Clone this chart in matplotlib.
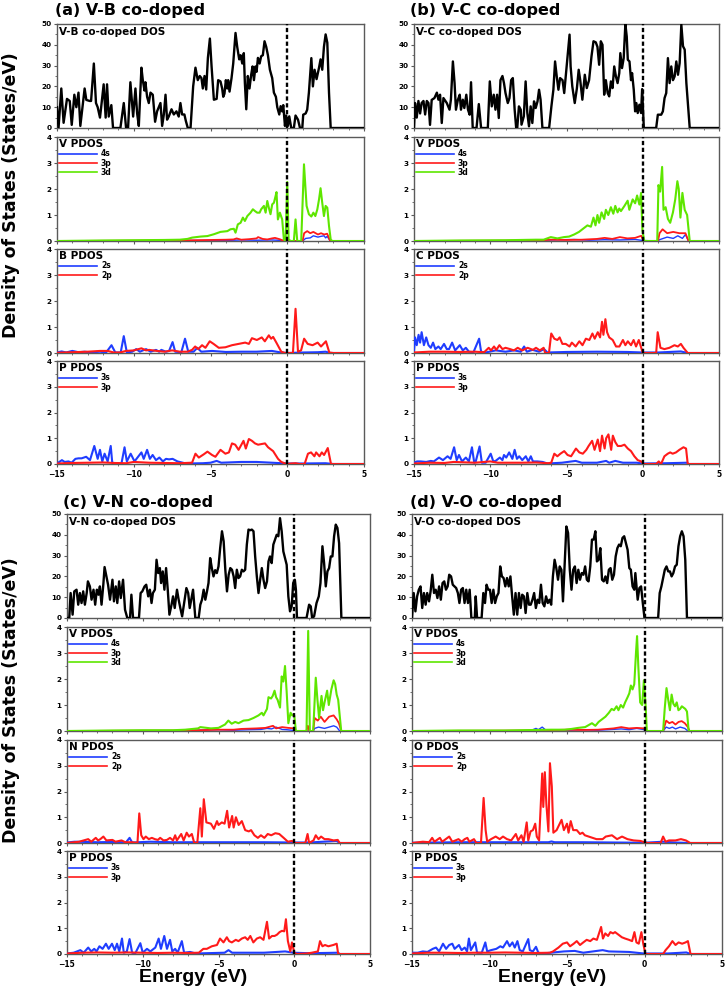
"""Total DOS and projected DOS of the four V-X co-doped systems (X = B, C, N, O)."""
import matplotlib
matplotlib.use("Agg")
import matplotlib.pyplot as plt
from matplotlib.lines import Line2D
from matplotlib.ticker import MultipleLocator

# ---------------------------------------------------------------- data
# every curve is a list of (energy in eV, states/eV)

VB_DOS = [(-15.0, 10), (-14.9, 0), (-14.72, 19), (-14.57, 2.5), (-14.35, 14), (-14.17, 13), (-14.04, 1.5),
          (-13.87, 16), (-13.74, 10), (-13.6, 17), (-13.48, 1), (-13.2, 19), (-13.09, 13.5), (-12.87, 13),
          (-12.78, 13), (-12.6, 31), (-12.46, 12), (-12.35, 10), (-12.2, 5), (-12.13, 9.5), (-11.96, 21),
          (-11.83, 5), (-11.74, 21), (-11.63, 5.5), (-11.46, 11), (-11.35, 0), (-10.87, 0), (-10.65, 12),
          (-10.5, 0), (-10.37, 0), (-10.22, 22), (-10.04, 5.5), (-9.89, 19), (-9.78, 7), (-9.67, 1), (-9.5, 29),
          (-9.41, 23), (-9.3, 18), (-9.24, 22), (-9.13, 15), (-9.02, 12), (-8.91, 17), (-8.76, 16), (-8.61, 3),
          (-8.48, 8), (-8.26, 12), (-8.15, 1), (-8.04, 6.5), (-7.93, 16), (-7.83, 4), (-7.72, 5.5), (-7.54, 9),
          (-7.39, 6.5), (-7.22, 8), (-7.07, 5.5), (-6.96, 12), (-6.85, 6.5), (-6.7, 6.5), (-6.61, 3.5),
          (-6.48, 0), (-6.3, 0), (-6.13, 20), (-5.98, 29), (-5.83, 23), (-5.7, 25), (-5.59, 24), (-5.5, 19),
          (-5.39, 25), (-5.28, 18.5), (-5.17, 33.7), (-5.04, 43), (-4.93, 29.6), (-4.78, 13.6), (-4.6, 14),
          (-4.5, 23), (-4.35, 22.4), (-4.24, 19), (-4.17, 15), (-4.09, 16.5), (-4.0, 23), (-3.91, 19),
          (-3.85, 23), (-3.76, 17.5), (-3.63, 24), (-3.52, 31), (-3.37, 45.7), (-3.26, 39), (-3.13, 33),
          (-3.04, 35), (-2.93, 31), (-2.83, 36), (-2.76, 21.6), (-2.67, 9), (-2.57, 25), (-2.46, 19),
          (-2.35, 25.6), (-2.26, 29.6), (-2.17, 23), (-2.07, 29.6), (-2.0, 27), (-1.91, 33.7), (-1.8, 31),
          (-1.7, 34.5), (-1.59, 35), (-1.48, 41.7), (-1.37, 39), (-1.26, 35), (-1.13, 28), (-0.98, 24),
          (-0.87, 17), (-0.74, 15), (-0.65, 10), (-0.52, 6.5), (-0.43, 10.5), (-0.33, 8), (-0.26, 11),
          (-0.15, 1), (-0.07, 6), (0.04, 1), (0.13, 5.6), (0.26, 0), (0.43, 0), (0.54, 6), (0.7, 4), (0.83, 0),
          (0.98, 0), (1.04, 6.4), (1.2, 7), (1.3, 8.8), (1.41, 17), (1.57, 33.6), (1.67, 20), (1.78, 28),
          (1.91, 23.5), (2.07, 29), (2.17, 33), (2.28, 28), (2.39, 39), (2.5, 45), (2.61, 41), (2.72, 17),
          (2.83, 0), (5.0, 0)]
VB_V4S = [(-15, 0), (-8, 0.01), (-7.2, 0.04), (-6.5, 0.02), (-4, 0.02), (-3, 0.04), (-2, 0.03), (-1, 0.04),
          (-0.3, 0.02), (0, 0), (1.0, 0), (1.2, 0.1), (1.5, 0.12), (1.7, 0.2), (2.0, 0.15), (2.2, 0.18),
          (2.4, 0.2), (2.5, 0.12), (2.6, 0.18), (2.8, 0.0), (5, 0)]
VB_V3P = [(-15, 0), (-10, 0.01), (-7, 0.02), (-6, 0.03), (-5, 0.04), (-4, 0.05), (-3.5, 0.06), (-3.3, 0.1),
          (-3.0, 0.05), (-2.5, 0.07), (-2.0, 0.1), (-1.9, 0.15), (-1.6, 0.08), (-1.3, 0.06), (-1.0, 0.1),
          (-0.8, 0.12), (-0.5, 0.07), (-0.2, 0.0), (1.0, 0.0), (1.1, 0.3), (1.3, 0.38), (1.5, 0.3), (1.7, 0.35),
          (2.0, 0.25), (2.2, 0.3), (2.4, 0.25), (2.6, 0.28), (2.8, 0.0), (5, 0)]
VB_V3D = [(-15, 0), (-12, 0.02), (-10, 0.03), (-8, 0.04), (-7, 0.05), (-6.5, 0.08), (-6.2, 0.13), (-5.65, 0.17),
          (-5.2, 0.19), (-4.78, 0.26), (-4.35, 0.35), (-3.9, 0.38), (-3.7, 0.45), (-3.48, 0.47), (-3.37, 0.32),
          (-3.22, 0.64), (-3.04, 0.7), (-2.89, 0.9), (-2.76, 0.77), (-2.6, 0.96), (-2.39, 1.09), (-2.24, 1.22),
          (-2.1, 1.15), (-1.96, 1.09), (-1.8, 1.09), (-1.7, 1.22), (-1.52, 1.35), (-1.41, 1.09), (-1.3, 1.54),
          (-1.2, 1.28), (-1.09, 1.03), (-0.98, 1.41), (-0.87, 1.47), (-0.76, 1.73), (-0.7, 1.88), (-0.61, 0.83),
          (-0.48, 1.09), (-0.33, 0.83), (-0.22, 0.06), (-0.11, 0), (0.0, 2.27), (0.09, 0.06), (0.22, 0),
          (0.43, 0), (0.54, 0.83), (0.65, 0), (0.91, 0), (1.09, 2.95), (1.26, 1.35), (1.41, 1.03), (1.57, 0.94),
          (1.7, 1.09), (1.83, 0.96), (1.96, 1.22), (2.07, 1.6), (2.17, 2.03), (2.28, 1.47), (2.39, 0.96),
          (2.5, 1.35), (2.61, 1.28), (2.72, 0.58), (2.83, 0.06), (2.93, 0), (5, 0)]
VB_B2S = [(-15, 0.02), (-14.7, 0.06), (-14.4, 0.02), (-14.0, 0.08), (-13.6, 0.03), (-13.2, 0.05), (-12.8, 0.02),
          (-12.2, 0.05), (-11.8, 0.02), (-11.45, 0.3), (-11.2, 0.02), (-10.85, 0.02), (-10.65, 0.65),
          (-10.45, 0.02), (-10.1, 0.05), (-9.84, 0.15), (-9.6, 0.05), (-9.2, 0.15), (-8.9, 0.05), (-8.55, 0.12),
          (-8.35, 0.05), (-8.2, 0.12), (-7.9, 0.05), (-7.7, 0.08), (-7.47, 0.42), (-7.3, 0.05), (-6.9, 0.03),
          (-6.66, 0.55), (-6.45, 0.05), (-6.1, 0.05), (-5.86, 0.2), (-5.6, 0.05), (-4.9, 0.08), (-4.0, 0.04),
          (-3.0, 0.05), (-2.0, 0.05), (-1.0, 0.08), (-0.5, 0.03), (0, 0.0), (1.0, 0.02), (2.0, 0.03),
          (2.5, 0.05), (2.8, 0.0), (5, 0)]
VB_B2P = [(-15, 0.01), (-14, 0.03), (-13, 0.05), (-12.2, 0.08), (-11.7, 0.08), (-11.3, 0.02), (-10.9, 0.02),
          (-10.5, 0.08), (-10.0, 0.1), (-9.5, 0.18), (-9.2, 0.1), (-9.0, 0.12), (-8.5, 0.08), (-8.0, 0.05),
          (-7.5, 0.1), (-7.0, 0.05), (-6.5, 0.05), (-6.2, 0.12), (-6.0, 0.25), (-5.8, 0.15), (-5.55, 0.3),
          (-5.33, 0.2), (-5.05, 0.45), (-4.8, 0.35), (-4.46, 0.2), (-4.03, 0.22), (-3.6, 0.3), (-3.17, 0.35),
          (-2.74, 0.4), (-2.5, 0.35), (-2.3, 0.57), (-1.98, 0.5), (-1.66, 0.6), (-1.46, 0.45), (-1.2, 0.68),
          (-1.05, 0.55), (-0.92, 0.62), (-0.71, 0.4), (-0.39, 0.05), (-0.15, 0.0), (0.37, 0.0), (0.54, 1.7),
          (0.7, 0.05), (0.9, 0.1), (1.1, 0.55), (1.33, 0.35), (1.65, 0.3), (1.98, 0.4), (2.2, 0.25),
          (2.52, 0.45), (2.74, 0.02), (3.0, 0), (5, 0)]
VB_P3S = [(-15, 0.02), (-14.68, 0.15), (-14.5, 0.08), (-14.25, 0.1), (-14.05, 0.05), (-13.8, 0.2), (-13.6, 0.22),
          (-13.4, 0.22), (-13.1, 0.28), (-12.85, 0.15), (-12.57, 0.7), (-12.35, 0.2), (-12.2, 0.55),
          (-12.05, 0.1), (-11.9, 0.4), (-11.7, 0.1), (-11.5, 0.7), (-11.4, 0.05), (-11.1, 0.02), (-10.8, 0.02),
          (-10.6, 0.65), (-10.45, 0.1), (-10.2, 0.4), (-9.95, 0.1), (-9.5, 0.45), (-9.35, 0.2), (-9.13, 0.55),
          (-8.95, 0.2), (-8.77, 0.35), (-8.55, 0.15), (-8.33, 0.25), (-8.1, 0.1), (-7.9, 0.2), (-7.7, 0.18),
          (-7.47, 0.2), (-7.15, 0.1), (-6.6, 0.02), (-5.5, 0.03), (-5.0, 0.05), (-4.6, 0.12), (-4.3, 0.05),
          (-3.0, 0.08), (-2.0, 0.08), (-1.0, 0.05), (0, 0.02), (1, 0.02), (2.5, 0.03), (3, 0), (5, 0)]
VB_P3P = [(-15, 0.02), (-14, 0.04), (-13, 0.05), (-12, 0.06), (-11.3, 0.04), (-10.5, 0.03), (-10, 0.08),
          (-9, 0.05), (-8, 0.04), (-7, 0.03), (-6.2, 0.05), (-5.98, 0.4), (-5.76, 0.25), (-5.43, 0.38),
          (-5.2, 0.48), (-4.9, 0.35), (-4.68, 0.28), (-4.35, 0.55), (-4.03, 0.4), (-3.8, 0.45), (-3.6, 0.8),
          (-3.39, 0.75), (-3.17, 0.55), (-2.85, 0.9), (-2.7, 0.6), (-2.5, 0.97), (-2.3, 0.9), (-2.1, 0.8),
          (-1.9, 0.75), (-1.45, 0.8), (-1.25, 0.65), (-0.92, 0.5), (-0.6, 0.2), (-0.39, 0.08), (-0.05, 0.0),
          (0.26, 0.02), (0.55, 0.03), (0.8, 0.0), (1.13, 0.0), (1.35, 0.4), (1.55, 0.45), (1.77, 0.3),
          (1.88, 0.45), (2.1, 0.3), (2.25, 0.45), (2.4, 0.35), (2.64, 0.62), (2.85, 0.0), (5, 0)]

VC_DOS = [(-15.0, 0), (-14.93, 12), (-14.82, 5), (-14.71, 13), (-14.6, 7), (-14.5, 12), (-14.38, 13),
          (-14.27, 6.5), (-14.16, 13), (-14.05, 12), (-13.95, 1.5), (-13.84, 13.5), (-13.66, 14.4), (-13.5, 17),
          (-13.4, 13.6), (-13.29, 16), (-13.18, 2.4), (-13.07, 14.4), (-12.85, 12), (-12.67, 8.8),
          (-12.58, 13.6), (-12.45, 32), (-12.34, 21.6), (-12.25, 8.8), (-12.12, 13.6), (-12.0, 16),
          (-11.92, 8.8), (-11.8, 13.6), (-11.7, 9.6), (-11.57, 16), (-11.46, 8.8), (-11.35, 6.4), (-11.26, 22),
          (-11.15, 0), (-10.9, 0), (-10.75, 11.5), (-10.6, 0), (-10.16, 0), (-10.03, 22.4), (-9.9, 10.4),
          (-9.77, 16), (-9.66, 8.8), (-9.55, 16), (-9.44, 4.8), (-9.33, 23), (-9.2, 25), (-9.1, 21.6),
          (-9.0, 16.8), (-8.85, 12), (-8.74, 14.4), (-8.63, 23), (-8.52, 24), (-8.4, 8.8), (-8.3, 0),
          (-8.23, 0), (-8.12, 10.4), (-8.0, 8.8), (-7.95, 1.6), (-7.8, 5.6), (-7.68, 22.4), (-7.57, 7.2),
          (-7.46, 0.8), (-7.35, 10.4), (-7.24, 2.4), (-7.13, 12.8), (-7.02, 9.6), (-6.9, 12.8), (-6.8, 18.4),
          (-6.7, 13.6), (-6.58, 0), (-6.14, 0), (-5.99, 10.4), (-5.86, 18.4), (-5.75, 32), (-5.64, 24.8),
          (-5.53, 18.4), (-5.42, 24), (-5.26, 23), (-5.15, 16.8), (-5.04, 25.6), (-4.9, 36.9), (-4.8, 44.9),
          (-4.73, 29.6), (-4.62, 20), (-4.46, 12), (-4.32, 19), (-4.2, 28), (-4.1, 23), (-3.96, 13.6),
          (-3.8, 25.6), (-3.67, 19.2), (-3.52, 23), (-3.36, 34.5), (-3.23, 41.7), (-3.08, 41.2), (-2.97, 39),
          (-2.86, 30.4), (-2.75, 41.7), (-2.64, 40), (-2.53, 16), (-2.42, 23), (-2.3, 16.8), (-2.2, 15.2),
          (-2.09, 22.4), (-1.98, 19.2), (-1.87, 29.6), (-1.76, 24.8), (-1.65, 21.6), (-1.54, 26.4), (-1.47, 36),
          (-1.36, 28.8), (-1.25, 33.6), (-1.14, 50), (-1.05, 44), (-0.98, 32.8), (-0.87, 32), (-0.77, 23),
          (-0.7, 26.4), (-0.59, 18.4), (-0.5, 8), (-0.42, 12), (-0.33, 7.2), (-0.22, 11.2), (-0.11, 7.2),
          (-0.04, 18.7), (0.07, 0), (0.88, 0), (0.99, 6.4), (1.21, 6.4), (1.32, 8), (1.43, 14.4), (1.54, 16.8),
          (1.65, 33.6), (1.76, 21.6), (1.87, 29.6), (1.98, 23), (2.09, 24.8), (2.2, 32), (2.31, 25.6),
          (2.42, 31.2), (2.53, 49.7), (2.64, 39.3), (2.75, 37.7), (2.86, 21.6), (3.08, 0), (5.0, 0)]
VC_V4S = [(-15, 0), (-8, 0.01), (-6, 0.04), (-4.5, 0.06), (-3.5, 0.03), (-2.5, 0.05), (-1.5, 0.04), (-0.5, 0.06),
          (0, 0.02), (1.0, 0), (1.1, 0.05), (1.6, 0.15), (2.0, 0.1), (2.3, 0.2), (2.6, 0.1), (2.8, 0.25),
          (3.0, 0), (5, 0)]
VC_V3P = [(-15, 0), (-10, 0.01), (-7, 0.02), (-6, 0.05), (-5, 0.04), (-4, 0.05), (-3, 0.08), (-2.5, 0.12),
          (-2.0, 0.08), (-1.5, 0.15), (-1.0, 0.1), (-0.5, 0.12), (-0.1, 0.2), (0.05, 0.0), (1.0, 0.0),
          (1.1, 0.3), (1.3, 0.45), (1.6, 0.3), (2.0, 0.35), (2.4, 0.3), (2.8, 0.3), (3.0, 0.0), (5, 0)]
VC_V3D = [(-15, 0), (-12, 0.02), (-9, 0.03), (-7, 0.05), (-6.5, 0.05), (-6.03, 0.15), (-5.6, 0.1), (-5.16, 0.15),
          (-4.83, 0.17), (-4.5, 0.25), (-4.18, 0.35), (-3.85, 0.5), (-3.63, 0.6), (-3.4, 0.55), (-3.23, 0.9),
          (-3.1, 0.6), (-2.97, 1.0), (-2.86, 0.7), (-2.7, 1.1), (-2.53, 0.85), (-2.42, 1.2), (-2.26, 1.0),
          (-2.09, 1.3), (-1.93, 1.05), (-1.8, 1.35), (-1.65, 1.1), (-1.54, 1.25), (-1.43, 1.15), (-1.2, 1.35),
          (-0.99, 1.55), (-0.88, 1.2), (-0.66, 1.6), (-0.5, 1.45), (-0.37, 1.75), (-0.22, 1.4), (-0.11, 1.85),
          (-0.02, 0.4), (0.1, 0.0), (0.95, 0.0), (1.03, 2.15), (1.14, 1.9), (1.27, 2.85), (1.36, 1.2),
          (1.5, 1.3), (1.65, 0.85), (1.8, 0.7), (1.98, 1.1), (2.13, 1.6), (2.27, 2.3), (2.36, 2.0), (2.47, 0.9),
          (2.6, 1.85), (2.75, 1.2), (2.91, 1.0), (3.08, 0.0), (5, 0)]
VC_C2S = [(-15, 0.1), (-14.93, 0.6), (-14.82, 0.3), (-14.7, 0.7), (-14.6, 0.4), (-14.5, 0.8), (-14.35, 0.3),
          (-14.2, 0.6), (-14.05, 0.3), (-13.9, 0.2), (-13.75, 0.4), (-13.6, 0.15), (-13.4, 0.25),
          (-13.25, 0.15), (-13.03, 0.35), (-12.85, 0.15), (-12.7, 0.15), (-12.5, 0.4), (-12.3, 0.1),
          (-12.0, 0.3), (-11.8, 0.1), (-11.6, 0.2), (-11.4, 0.05), (-11.1, 0.03), (-10.73, 0.55), (-10.6, 0.05),
          (-10.3, 0.02), (-9.64, 0.1), (-9.0, 0.05), (-8.43, 0.1), (-8.0, 0.05), (-7.78, 0.25), (-7.6, 0.05),
          (-7.23, 0.12), (-6.8, 0.05), (-6.47, 0.15), (-6.25, 0.02), (-5.0, 0.04), (-3.0, 0.05), (-1.0, 0.04),
          (0, 0.02), (1, 0.02), (2.5, 0.06), (2.95, 0), (5, 0)]
VC_C2P = [(-15, 0.02), (-14, 0.05), (-13, 0.05), (-12, 0.04), (-11, 0.05), (-10.4, 0.03), (-10.1, 0.2),
          (-9.95, 0.1), (-9.75, 0.25), (-9.6, 0.12), (-9.4, 0.3), (-9.2, 0.15), (-9.0, 0.2), (-8.7, 0.15),
          (-8.45, 0.1), (-8.2, 0.2), (-7.9, 0.1), (-7.55, 0.2), (-7.2, 0.12), (-7.0, 0.2), (-6.75, 0.1),
          (-6.5, 0.2), (-6.4, 0.0), (-6.15, 0.0), (-6.0, 0.75), (-5.8, 0.55), (-5.6, 0.5), (-5.45, 0.6),
          (-5.27, 0.35), (-5.05, 0.35), (-4.8, 0.25), (-4.65, 0.4), (-4.4, 0.25), (-4.16, 0.45), (-3.95, 0.3),
          (-3.73, 0.55), (-3.5, 0.5), (-3.3, 0.75), (-3.15, 0.55), (-2.95, 0.8), (-2.8, 0.6), (-2.67, 1.2),
          (-2.58, 0.7), (-2.45, 1.3), (-2.34, 0.8), (-2.2, 0.6), (-1.97, 0.5), (-1.75, 0.25), (-1.53, 0.25),
          (-1.3, 0.5), (-1.14, 0.3), (-0.98, 0.45), (-0.77, 0.3), (-0.6, 0.5), (-0.44, 0.25), (-0.26, 0.5),
          (-0.1, 0.2), (0.0, 0.0), (0.88, 0.0), (0.98, 0.8), (1.16, 0.2), (1.42, 0.15), (1.75, 0.2),
          (2.08, 0.3), (2.3, 0.25), (2.5, 0.35), (2.67, 0.2), (2.95, 0.0), (5, 0)]
VC_P3S = [(-15, 0.05), (-14.8, 0.1), (-14.56, 0.1), (-14.2, 0.08), (-13.9, 0.12), (-13.7, 0.1), (-13.36, 0.25),
          (-13.1, 0.15), (-12.8, 0.3), (-12.6, 0.2), (-12.37, 0.65), (-12.2, 0.15), (-12.05, 0.35),
          (-11.85, 0.1), (-11.6, 0.25), (-11.4, 0.1), (-11.2, 0.65), (-11.05, 0.05), (-10.95, 0.1),
          (-10.7, 0.68), (-10.55, 0.05), (-10.3, 0.05), (-9.97, 0.4), (-9.8, 0.1), (-9.65, 0.12), (-9.37, 0.25),
          (-9.2, 0.15), (-9.1, 0.35), (-8.95, 0.25), (-8.76, 0.45), (-8.55, 0.2), (-8.4, 0.55), (-8.25, 0.2),
          (-8.1, 0.3), (-7.9, 0.15), (-7.67, 0.3), (-7.5, 0.1), (-7.34, 0.3), (-7.2, 0.1), (-6.9, 0.1),
          (-6.57, 0.08), (-6.25, 0.02), (-5.3, 0.05), (-4.4, 0.12), (-4.0, 0.05), (-3.0, 0.05), (-2.4, 0.12),
          (-2.2, 0.05), (-1.8, 0.12), (-1.3, 0.05), (-0.4, 0.05), (0, 0.02), (1.5, 0.03), (2.9, 0.05),
          (3.0, 0), (5, 0)]
VC_P3P = [(-15, 0.02), (-14, 0.05), (-13, 0.04), (-12.4, 0.08), (-11, 0.05), (-10, 0.1), (-9.5, 0.05),
          (-8, 0.05), (-7, 0.06), (-6.2, 0.03), (-6.0, 0.05), (-5.8, 0.4), (-5.6, 0.3), (-5.4, 0.4),
          (-5.15, 0.5), (-4.93, 0.35), (-4.7, 0.3), (-4.38, 0.6), (-4.16, 0.45), (-3.93, 0.4), (-3.7, 0.55),
          (-3.55, 0.7), (-3.32, 0.9), (-3.16, 0.55), (-2.95, 0.95), (-2.8, 0.5), (-2.67, 1.1), (-2.5, 0.6),
          (-2.4, 1.0), (-2.25, 1.15), (-2.07, 0.55), (-1.96, 1.1), (-1.8, 0.85), (-1.64, 0.7), (-1.42, 0.7),
          (-1.2, 0.75), (-0.98, 0.6), (-0.77, 0.5), (-0.55, 0.3), (-0.33, 0.15), (-0.11, 0.1), (0.05, 0.0),
          (0.88, 0.0), (1.05, 0.1), (1.2, 0.0), (1.42, 0.3), (1.64, 0.4), (1.8, 0.45), (1.96, 0.4),
          (2.18, 0.45), (2.4, 0.55), (2.67, 0.65), (2.84, 0.6), (2.95, 0.0), (5, 0)]

VN_DOS = [(-15.0, 0), (-14.85, 0), (-14.76, 12), (-14.63, 1.6), (-14.52, 12.8), (-14.37, 13.6), (-14.26, 6.4),
          (-14.15, 12), (-14.04, 7.2), (-13.93, 12.8), (-13.82, 6.4), (-13.7, 12), (-13.62, 17.6),
          (-13.49, 15.2), (-13.38, 8.8), (-13.25, 13.6), (-13.14, 6.4), (-13.03, 13.6), (-12.92, 11.2),
          (-12.83, 15.2), (-12.72, 6.4), (-12.6, 16.3), (-12.52, 24.5), (-12.4, 20), (-12.29, 16),
          (-12.16, 8.8), (-12.0, 18.4), (-11.9, 8), (-11.78, 15.2), (-11.68, 7.2), (-11.56, 17.6),
          (-11.45, 9.6), (-11.3, 18.4), (-11.17, 4), (-11.02, 0), (-10.84, 0), (-10.75, 11.2), (-10.64, 0),
          (-10.25, 0), (-10.14, 12), (-10.03, 12.8), (-9.88, 15.2), (-9.77, 16), (-9.64, 10.4), (-9.53, 13.6),
          (-9.42, 7.2), (-9.33, 12), (-9.2, 13.6), (-9.09, 28), (-8.98, 21.6), (-8.87, 24), (-8.79, 16.8),
          (-8.68, 22.4), (-8.57, 13.6), (-8.46, 24), (-8.35, 13.6), (-8.24, 1.6), (-8.1, 6.4), (-8.0, 10.4),
          (-7.89, 4.8), (-7.74, 13.6), (-7.63, 8.8), (-7.52, 4.8), (-7.4, 0.8), (-7.25, 8), (-7.12, 14.4),
          (-7.0, 12), (-6.9, 4.8), (-6.8, 8.8), (-6.68, 13.6), (-6.53, 0), (-6.31, 0), (-6.2, 6.4),
          (-6.09, 8.8), (-5.98, 13.6), (-5.87, 8.8), (-5.76, 12.8), (-5.66, 16.8), (-5.55, 28.8), (-5.44, 24),
          (-5.33, 20), (-5.22, 23), (-5.11, 21.6), (-5.0, 24.8), (-4.89, 33.6), (-4.77, 41.7), (-4.66, 36.9),
          (-4.55, 23.2), (-4.44, 12.8), (-4.33, 20.8), (-4.22, 24), (-4.11, 23.2), (-4.0, 20), (-3.9, 14.4),
          (-3.79, 23.2), (-3.68, 19.2), (-3.57, 20), (-3.46, 23.2), (-3.35, 22.4), (-3.24, 23.2),
          (-3.13, 35.3), (-3.02, 42.5), (-2.9, 42.2), (-2.8, 42.5), (-2.69, 41.7), (-2.58, 29.6), (-2.47, 20),
          (-2.36, 12), (-2.25, 18.4), (-2.14, 24), (-2.03, 18.4), (-1.92, 14.4), (-1.8, 17.6), (-1.7, 27.2),
          (-1.6, 29.6), (-1.49, 26.4), (-1.38, 35.3), (-1.27, 37.7), (-1.16, 40), (-1.05, 39.3), (-0.94, 48),
          (-0.83, 41.7), (-0.72, 32), (-0.61, 28.8), (-0.5, 25.6), (-0.39, 10.4), (-0.28, 3.2), (-0.17, 5.6),
          (-0.07, 16.8), (0.04, 18.4), (0.11, 13.6), (0.18, 0), (0.81, 0), (0.98, 6.4), (1.09, 5.6),
          (1.18, 0), (1.31, 0.8), (1.47, 7.2), (1.62, 10.4), (1.73, 16.8), (1.86, 34.5), (1.97, 26.4),
          (2.08, 15.2), (2.19, 22.4), (2.3, 24), (2.41, 29.6), (2.52, 29.6), (2.63, 39.3), (2.74, 44.9),
          (2.85, 43.3), (2.96, 36), (3.11, 0), (5.0, 0)]
VN_V4S = [(-15, 0), (-8, 0.01), (-5, 0.05), (-4, 0.03), (-3, 0.05), (-2.2, 0.06), (-1.8, 0.1), (-1.5, 0.08),
          (-1.2, 0.15), (-0.8, 0.06), (-0.5, 0.05), (0, 0.02), (0.1, 0), (1.25, 0), (1.35, 0.1), (1.6, 0.15),
          (2.0, 0.1), (2.3, 0.15), (2.6, 0.2), (2.8, 0.15), (3.0, 0), (5, 0)]
VN_V3P = [(-15, 0), (-10, 0.01), (-7, 0.02), (-5, 0.05), (-4, 0.05), (-3.5, 0.08), (-2.5, 0.1), (-1.9, 0.12),
          (-1.4, 0.2), (-1.2, 0.1), (-0.8, 0.15), (-0.4, 0.12), (0, 0.1), (0.1, 0), (0.8, 0), (0.9, 0.2),
          (1.0, 0), (1.25, 0), (1.35, 0.5), (1.55, 0.4), (1.75, 0.55), (2.0, 0.35), (2.3, 0.55), (2.6, 0.6),
          (2.8, 0.45), (2.95, 0.3), (3.1, 0), (5, 0)]
VN_V3D = [(-15, 0), (-12, 0.02), (-10, 0.03), (-8, 0.03), (-7.2, 0.05), (-6.35, 0.1), (-6.2, 0.15), (-5.5, 0.1),
          (-5.0, 0.12), (-4.57, 0.25), (-4.35, 0.4), (-4.13, 0.28), (-3.9, 0.35), (-3.68, 0.3), (-3.35, 0.4),
          (-3.02, 0.42), (-2.69, 0.5), (-2.36, 0.6), (-2.14, 0.7), (-2.03, 0.6), (-1.8, 0.85), (-1.7, 1.3),
          (-1.53, 1.25), (-1.42, 1.35), (-1.3, 1.55), (-1.2, 1.3), (-1.1, 1.2), (-0.94, 0.9), (-0.83, 2.1),
          (-0.72, 1.9), (-0.61, 2.5), (-0.5, 1.5), (-0.39, 0.3), (-0.24, 0.7), (-0.13, 0.6), (0.0, 0.6),
          (0.11, 0.0), (0.81, 0.0), (0.92, 3.85), (1.03, 0.0), (1.25, 0.0), (1.42, 2.05), (1.53, 1.2),
          (1.64, 0.5), (1.8, 1.35), (1.9, 0.8), (2.0, 1.1), (2.17, 1.55), (2.28, 1.0), (2.45, 1.6), (2.6, 1.95),
          (2.7, 1.8), (2.8, 1.4), (2.9, 1.2), (3.1, 0.0), (5, 0)]
VN_N2S = [(-15, 0.02), (-14.5, 0.05), (-13, 0.03), (-12, 0.04), (-11.1, 0.03), (-10.87, 0.2), (-10.7, 0.02),
          (-9.5, 0.05), (-8, 0.03), (-6, 0.03), (-4, 0.03), (-2, 0.03), (0, 0.02), (1, 0.02), (2.8, 0.08),
          (3.0, 0), (5, 0)]
VN_N2P = [(-15, 0.0), (-14.2, 0.05), (-13.6, 0.15), (-13.4, 0.05), (-13.1, 0.2), (-12.95, 0.1), (-12.8, 0.15),
          (-12.6, 0.25), (-12.4, 0.1), (-12.0, 0.12), (-11.8, 0.05), (-11.4, 0.1), (-11.15, 0.03),
          (-10.7, 0.03), (-10.35, 0.0), (-10.23, 1.15), (-10.1, 0.3), (-9.95, 0.15), (-9.8, 0.25), (-9.6, 0.15),
          (-9.4, 0.2), (-9.2, 0.15), (-9.0, 0.12), (-8.85, 0.2), (-8.63, 0.1), (-8.4, 0.12), (-8.2, 0.2),
          (-8.0, 0.1), (-7.86, 0.3), (-7.75, 0.1), (-7.46, 0.35), (-7.3, 0.1), (-7.1, 0.4), (-6.95, 0.25),
          (-6.76, 0.35), (-6.6, 0.0), (-6.4, 0.0), (-6.2, 1.35), (-6.1, 0.25), (-5.97, 1.7), (-5.8, 0.8),
          (-5.5, 0.75), (-5.3, 0.55), (-5.1, 0.85), (-5.0, 0.7), (-4.78, 0.8), (-4.6, 0.75), (-4.43, 1.25),
          (-4.3, 0.6), (-4.1, 1.05), (-4.0, 0.6), (-3.85, 1.0), (-3.67, 0.7), (-3.46, 0.85), (-3.24, 0.5),
          (-3.0, 0.45), (-2.85, 0.5), (-2.63, 0.3), (-2.4, 0.2), (-2.2, 0.3), (-1.97, 0.2), (-1.75, 0.35),
          (-1.52, 0.3), (-1.25, 0.38), (-0.99, 0.35), (-0.7, 0.2), (-0.42, 0.05), (-0.15, 0.08), (0.05, 0.0),
          (0.73, 0.0), (0.88, 0.35), (0.98, 0.0), (1.27, 0.1), (1.42, 0.3), (1.6, 0.15), (1.77, 0.25),
          (2.0, 0.15), (2.25, 0.15), (2.6, 0.1), (2.87, 0.12), (3.0, 0.0), (5, 0)]
VN_P3S = [(-15, 0.02), (-14.56, 0.05), (-14.12, 0.15), (-13.9, 0.05), (-13.6, 0.25), (-13.4, 0.1), (-13.2, 0.2),
          (-13.05, 0.1), (-12.86, 0.3), (-12.65, 0.2), (-12.43, 0.4), (-12.25, 0.2), (-12.03, 0.4),
          (-11.85, 0.15), (-11.7, 0.4), (-11.55, 0.1), (-11.37, 0.6), (-11.25, 0.05), (-11.05, 0.1),
          (-10.87, 0.58), (-10.7, 0.05), (-10.5, 0.02), (-10.16, 0.42), (-10.0, 0.05), (-9.72, 0.2),
          (-9.5, 0.1), (-9.17, 0.25), (-8.95, 0.6), (-8.8, 0.2), (-8.58, 0.7), (-8.4, 0.2), (-8.2, 0.55),
          (-8.05, 0.1), (-7.86, 0.2), (-7.7, 0.05), (-7.42, 0.5), (-7.27, 0.05), (-6.87, 0.08), (-6.5, 0.02),
          (-4.6, 0.05), (-4.34, 0.15), (-4.1, 0.05), (-2.0, 0.05), (-0.6, 0.1), (-0.05, 0.05), (1, 0.03),
          (2.9, 0.05), (3.0, 0), (5, 0)]
VN_P3P = [(-15, 0.02), (-14, 0.05), (-13, 0.06), (-12, 0.05), (-11, 0.06), (-10, 0.05), (-9, 0.04), (-8, 0.05),
          (-7, 0.04), (-6.3, 0.05), (-6.0, 0.2), (-5.77, 0.2), (-5.44, 0.3), (-5.1, 0.35), (-4.9, 0.6),
          (-4.67, 0.45), (-4.45, 0.65), (-4.3, 0.5), (-4.12, 0.45), (-3.86, 0.55), (-3.68, 0.5), (-3.46, 0.6),
          (-3.24, 0.65), (-3.07, 0.55), (-2.9, 0.7), (-2.7, 0.45), (-2.47, 0.6), (-2.25, 0.65), (-2.03, 0.55),
          (-1.8, 1.25), (-1.66, 0.6), (-1.47, 0.7), (-1.3, 0.7), (-1.14, 0.75), (-0.97, 0.85), (-0.81, 0.9),
          (-0.66, 0.88), (-0.55, 1.35), (-0.42, 0.5), (-0.26, 0.1), (-0.15, 0.45), (0.0, 0.05), (0.15, 0.0),
          (0.84, 0.02), (1.16, 0.05), (1.56, 0.1), (1.7, 0.5), (1.86, 0.3), (2.03, 0.35), (2.25, 0.3),
          (2.58, 0.35), (2.8, 0.4), (2.9, 0.0), (5, 0)]

VO_DOS = [(-15.0, 0), (-14.89, 12), (-14.78, 3.2), (-14.67, 10.4), (-14.56, 13.6), (-14.45, 15.2),
          (-14.34, 4.8), (-14.23, 12), (-14.12, 6.4), (-14.02, 12), (-13.9, 8), (-13.8, 12.8), (-13.69, 20.8),
          (-13.58, 12), (-13.47, 13.6), (-13.36, 9.6), (-13.25, 15.2), (-13.14, 8.8), (-13.03, 16.8),
          (-12.92, 17.6), (-12.81, 13.6), (-12.7, 15.2), (-12.6, 20.8), (-12.48, 20), (-12.37, 16),
          (-12.26, 15.2), (-12.15, 14.4), (-12.04, 12), (-11.94, 7.2), (-11.83, 13.6), (-11.72, 14.4),
          (-11.61, 7.2), (-11.5, 13.6), (-11.39, 7.2), (-11.28, 13.6), (-11.17, 0), (-10.95, 0),
          (-10.89, 10.4), (-10.8, 0), (-10.51, 0), (-10.4, 12), (-10.29, 7.2), (-10.19, 16), (-10.08, 13.6),
          (-9.97, 13.6), (-9.86, 7.2), (-9.75, 13.6), (-9.64, 7.2), (-9.53, 10.4), (-9.42, 12), (-9.31, 24.8),
          (-9.2, 20), (-9.09, 19.2), (-8.98, 15.2), (-8.87, 19.2), (-8.76, 15.2), (-8.65, 20), (-8.54, 10.4),
          (-8.43, 1.6), (-8.32, 12), (-8.21, 1.6), (-8.1, 12), (-7.99, 4.8), (-7.89, 11.2), (-7.78, 10.4),
          (-7.67, 2.4), (-7.56, 12), (-7.45, 6.4), (-7.34, 6.4), (-7.23, 8.8), (-7.12, 12), (-7.01, 4.8),
          (-6.9, 8.8), (-6.79, 7.2), (-6.68, 16), (-6.57, 7.2), (-6.46, 5.6), (-6.35, 10.4), (-6.24, 7.2),
          (-6.13, 8.8), (-6.02, 6.4), (-5.91, 20), (-5.8, 28), (-5.69, 24), (-5.58, 18.4), (-5.47, 24.8),
          (-5.36, 23.2), (-5.26, 8), (-5.15, 26.4), (-5.04, 44), (-4.93, 40.9), (-4.82, 23.2), (-4.71, 13.6),
          (-4.6, 23.2), (-4.49, 24.8), (-4.38, 16.8), (-4.27, 23.2), (-4.16, 18.4), (-4.05, 21.6),
          (-3.94, 20.8), (-3.83, 24.8), (-3.72, 18.4), (-3.61, 17.6), (-3.5, 24.8), (-3.39, 37.7),
          (-3.28, 37.7), (-3.17, 41.7), (-3.07, 27.2), (-2.96, 28), (-2.85, 33.6), (-2.74, 18.4),
          (-2.63, 17.6), (-2.52, 20), (-2.41, 16.8), (-2.3, 23.2), (-2.19, 24), (-2.08, 18.4), (-1.97, 20.8),
          (-1.86, 29.6), (-1.75, 33.6), (-1.64, 35.3), (-1.53, 34.5), (-1.42, 38.5), (-1.31, 39.3), (-1.2, 36),
          (-1.09, 32.8), (-0.98, 24), (-0.88, 23.2), (-0.77, 15.2), (-0.66, 13.6), (-0.59, 21.6), (-0.5, 13.6),
          (-0.44, 8.8), (-0.33, 14.4), (-0.22, 15.2), (-0.11, 7.2), (0.0, 0), (0.88, 0), (0.98, 12),
          (1.09, 15.2), (1.2, 19.2), (1.31, 23.2), (1.42, 24.8), (1.53, 22.4), (1.64, 22.4), (1.75, 20),
          (1.86, 21.6), (1.97, 24.8), (2.08, 25.6), (2.19, 34.5), (2.3, 39.3), (2.41, 41.7), (2.52, 39.3),
          (2.63, 28), (2.74, 0), (5.0, 0)]
VO_V4S = [(-15, 0), (-8, 0.01), (-7.4, 0.02), (-7.2, 0.05), (-7.0, 0.1), (-6.85, 0.05), (-6.6, 0.15),
          (-6.4, 0.05), (-5, 0.03), (-4, 0.05), (-3, 0.03), (-1.5, 0.08), (-1.0, 0.05), (-0.5, 0.1), (0, 0.05),
          (0.1, 0), (1.2, 0), (1.4, 0.15), (1.6, 0.1), (1.8, 0.15), (2.0, 0.08), (2.3, 0.15), (2.6, 0.1),
          (2.8, 0), (5, 0)]
VO_V3P = [(-15, 0), (-10, 0.01), (-7, 0.02), (-5, 0.05), (-4, 0.04), (-3, 0.05), (-2, 0.1), (-1.5, 0.15),
          (-1.0, 0.1), (-0.5, 0.12), (0, 0.1), (0.1, 0), (1.2, 0), (1.3, 0.2), (1.4, 0.4), (1.6, 0.3),
          (1.8, 0.35), (2.0, 0.25), (2.2, 0.35), (2.4, 0.38), (2.6, 0.3), (2.8, 0.15), (2.9, 0), (5, 0)]
VO_V3D = [(-15, 0), (-12, 0.02), (-9, 0.02), (-7, 0.04), (-6.0, 0.05), (-5.6, 0.05), (-5.15, 0.05), (-4.7, 0.08),
          (-4.27, 0.12), (-3.83, 0.15), (-3.39, 0.3), (-3.17, 0.2), (-2.96, 0.35), (-2.74, 0.45), (-2.52, 0.55),
          (-2.3, 0.7), (-2.12, 0.85), (-1.97, 0.8), (-1.8, 0.95), (-1.68, 0.8), (-1.53, 1.0), (-1.38, 0.9),
          (-1.25, 1.1), (-1.09, 1.3), (-0.98, 1.45), (-0.88, 1.75), (-0.77, 1.6), (-0.66, 1.8), (-0.55, 3.0),
          (-0.48, 3.65), (-0.4, 2.5), (-0.28, 1.1), (-0.15, 1.0), (-0.04, 1.95), (0.07, 1.0), (0.15, 0.0),
          (1.2, 0.0), (1.31, 0.9), (1.42, 1.65), (1.53, 1.2), (1.64, 0.8), (1.75, 1.4), (1.86, 1.05),
          (1.97, 0.95), (2.08, 1.1), (2.19, 0.8), (2.3, 0.85), (2.41, 0.95), (2.52, 0.9), (2.63, 0.85),
          (2.74, 0.75), (2.85, 0.0), (5, 0)]
VO_O2S = [(-15, 0.01), (-12, 0.03), (-10, 0.03), (-8, 0.03), (-6.2, 0.03), (-6.0, 0.06), (-5.8, 0.03), (-4, 0.03),
          (-2, 0.02), (0, 0.01), (1.2, 0.05), (2, 0.02), (2.9, 0), (5, 0)]
VO_O2P = [(-15, 0.0), (-14.3, 0.05), (-13.9, 0.03), (-13.7, 0.2), (-13.55, 0.05), (-13.2, 0.2), (-13.05, 0.05),
          (-12.6, 0.25), (-12.4, 0.05), (-12.0, 0.15), (-11.8, 0.05), (-11.6, 0.15), (-11.43, 0.2),
          (-11.3, 0.05), (-11.0, 0.15), (-10.85, 0.0), (-10.55, 0.0), (-10.38, 1.75), (-10.25, 0.5),
          (-10.15, 0.05), (-9.9, 0.15), (-9.6, 0.25), (-9.34, 0.15), (-9.13, 0.25), (-8.87, 0.15), (-8.6, 0.1),
          (-8.3, 0.35), (-8.15, 0.1), (-7.94, 0.3), (-7.8, 0.05), (-7.6, 0.8), (-7.5, 0.1), (-7.35, 0.45),
          (-7.2, 0.5), (-7.05, 0.75), (-6.95, 0.25), (-6.8, 0.1), (-6.6, 2.7), (-6.53, 1.4), (-6.43, 2.75),
          (-6.33, 1.5), (-6.2, 0.45), (-6.1, 3.1), (-5.98, 2.2), (-5.88, 0.4), (-5.67, 0.5), (-5.35, 0.9),
          (-5.2, 0.5), (-5.0, 0.75), (-4.9, 0.4), (-4.76, 0.85), (-4.6, 0.5), (-4.37, 0.5), (-4.16, 0.35),
          (-4.0, 0.4), (-3.85, 0.3), (-3.6, 0.25), (-3.1, 0.15), (-2.7, 0.15), (-2.5, 0.25), (-2.1, 0.3),
          (-1.77, 0.15), (-1.45, 0.25), (-1.1, 0.15), (-0.7, 0.1), (-0.26, 0.08), (0.0, 0.03), (0.2, 0.0),
          (1.04, 0.0), (1.2, 0.25), (1.36, 0.05), (1.58, 0.1), (2.0, 0.1), (2.35, 0.15), (2.67, 0.1),
          (2.95, 0.0), (5, 0)]
VO_P3S = [(-15, 0.05), (-14.63, 0.05), (-14.3, 0.1), (-14.0, 0.08), (-13.66, 0.2), (-13.45, 0.25), (-13.25, 0.1),
          (-13.0, 0.4), (-12.8, 0.2), (-12.6, 0.35), (-12.4, 0.4), (-12.25, 0.2), (-11.97, 0.35), (-11.8, 0.15),
          (-11.6, 0.25), (-11.45, 0.1), (-11.33, 0.6), (-11.2, 0.15), (-10.92, 0.45), (-10.8, 0.05),
          (-10.5, 0.05), (-10.27, 0.45), (-10.15, 0.1), (-9.9, 0.15), (-9.56, 0.2), (-9.3, 0.3), (-9.13, 0.25),
          (-8.87, 0.5), (-8.7, 0.3), (-8.52, 0.45), (-8.37, 0.25), (-8.2, 0.5), (-8.05, 0.15), (-7.85, 0.1),
          (-7.5, 0.58), (-7.4, 0.15), (-7.2, 0.1), (-7.0, 0.28), (-6.85, 0.05), (-6.55, 0.02), (-5.2, 0.1),
          (-4.5, 0.12), (-3.95, 0.05), (-2.7, 0.15), (-2.3, 0.1), (-1.0, 0.08), (-0.05, 0.02), (1.5, 0.02),
          (2.7, 0.06), (2.97, 0), (5, 0)]
VO_P3P = [(-15, 0.02), (-14, 0.05), (-13, 0.05), (-12, 0.04), (-11, 0.05), (-10, 0.05), (-9, 0.06), (-8, 0.05),
          (-7, 0.04), (-6.1, 0.05), (-5.9, 0.1), (-5.55, 0.25), (-5.27, 0.4), (-5.0, 0.45), (-4.8, 0.3),
          (-4.57, 0.4), (-4.37, 0.5), (-4.16, 0.35), (-3.95, 0.45), (-3.73, 0.55), (-3.5, 0.5), (-3.3, 0.6),
          (-3.07, 0.55), (-2.8, 1.05), (-2.68, 0.6), (-2.53, 0.8), (-2.35, 0.7), (-2.2, 0.85), (-2.03, 0.8),
          (-1.9, 0.85), (-1.68, 0.75), (-1.46, 0.65), (-1.25, 0.6), (-1.0, 0.55), (-0.8, 0.5), (-0.65, 0.85),
          (-0.52, 0.45), (-0.37, 0.4), (-0.2, 0.85), (-0.08, 0.4), (0.06, 0.0), (1.2, 0.0), (1.36, 0.15),
          (1.58, 0.3), (1.8, 0.5), (2.0, 0.35), (2.2, 0.45), (2.43, 0.4), (2.65, 0.45), (2.8, 0.5),
          (2.97, 0.0), (5, 0)]

TITLES = ["(a) V-B co-doped", "(b) V-C co-doped", "(c) V-N co-doped", "(d) V-O co-doped"]
DOS_LABELS = ["V-B co-doped DOS", "V-C co-doped DOS", "V-N co-doped DOS", "V-O co-doped DOS"]
DOPANTS = ["B", "C", "N", "O"]
V_ORBITALS = ["4s", "3p", "3d"]
X_ORBITALS = ["2s", "2p"]
P_ORBITALS = ["3s", "3p"]

# ---------------------------------------------------------------- style / layout
BLUE, RED, GREEN = "#1f3dff", "#ff1a1a", "#5ee600"
FRAME = "#5a5a5a"
W, H = 728, 992
BOLD = "DejaVu Sans"

plt.rcParams["font.family"] = ["DejaVu Sans"]
plt.rcParams["font.weight"] = "bold"

# (left, right) of each column and the (top, bottom) of its four panels, in pixels
COLS = [(57, 364), (414, 719), (67, 370), (412, 722)]
ROWS_TOP = [(24, 128), (137, 241), (249, 353), (361, 464)]
ROWS_BOT = [(514, 618), (627, 731), (740, 843), (851, 954)]
TITLE_POS = [(55, 10), (410, 10), (63, 502), (410, 502)]


def add_axes(fig, left, right, top, bottom):
    return fig.add_axes([left / W, 1 - bottom / H, (right - left) / W, (bottom - top) / H])


def style_axes(ax, ymax, ystep, show_x):
    ax.set_xlim(-15, 5)
    ax.set_ylim(0, ymax)
    ax.xaxis.set_major_locator(MultipleLocator(5))
    ax.xaxis.set_minor_locator(MultipleLocator(1))
    ax.yaxis.set_major_locator(MultipleLocator(ystep))
    ax.yaxis.set_minor_locator(MultipleLocator(ystep / 2))
    ax.tick_params(which="major", direction="out", length=2.5, width=0.8, color=FRAME, pad=1.5)
    ax.tick_params(which="minor", direction="out", length=1.5, width=0.6, color=FRAME)
    ax.tick_params(axis="y", labelsize=5.2)
    ax.tick_params(axis="x", labelsize=5.5, labelbottom=show_x)
    for lbl in ax.get_xticklabels() + ax.get_yticklabels():
        lbl.set_fontweight("bold")
    for sp in ax.spines.values():
        sp.set_color(FRAME)
        sp.set_linewidth(1.0)
    ax.axvline(0, color="black", lw=1.7, ls=(0, (1.8, 1.1)), zorder=5)


def plot_curve(ax, pts, color, lw):
    ax.plot([p[0] for p in pts], [p[1] for p in pts], color=color, lw=lw,
            solid_joinstyle="round", zorder=3)


def pdos_legend(ax, title, labels, colors):
    handles = [Line2D([], [], color=c, lw=1.2) for c in colors]
    ax.legend(handles, labels, title=title, loc="upper left", frameon=False,
              fontsize=5.5, handlelength=5.0, handletextpad=0.5, labelspacing=0.05,
              borderpad=0.15, borderaxespad=0.1, alignment="left",
              title_fontproperties={"weight": "bold", "size": 7.5, "family": BOLD})


fig = plt.figure(figsize=(W / 100, H / 100), dpi=100)

dos_sets = [VB_DOS, VC_DOS, VN_DOS, VO_DOS]
v_sets = [(VB_V4S, VB_V3P, VB_V3D), (VC_V4S, VC_V3P, VC_V3D),
          (VN_V4S, VN_V3P, VN_V3D), (VO_V4S, VO_V3P, VO_V3D)]
x_sets = [(VB_B2S, VB_B2P), (VC_C2S, VC_C2P), (VN_N2S, VN_N2P), (VO_O2S, VO_O2P)]
p_sets = [(VB_P3S, VB_P3P), (VC_P3S, VC_P3P), (VN_P3S, VN_P3P), (VO_P3S, VO_P3P)]

for k in range(4):
    left, right = COLS[k]
    rows = ROWS_TOP if k < 2 else ROWS_BOT

    # total DOS
    ax = add_axes(fig, left, right, *rows[0])
    plot_curve(ax, dos_sets[k], "black", 1.7)
    style_axes(ax, 50, 10, False)
    ax.text(0.008, 0.975, DOS_LABELS[k], transform=ax.transAxes, va="top", ha="left",
            fontsize=7.5, fontweight="bold", family=BOLD)

    # V PDOS
    ax = add_axes(fig, left, right, *rows[1])
    s4, p3, d3 = v_sets[k]
    plot_curve(ax, s4, BLUE, 1.0)
    plot_curve(ax, p3, RED, 1.3)
    plot_curve(ax, d3, GREEN, 1.5)
    style_axes(ax, 4, 1, False)
    pdos_legend(ax, "V PDOS", V_ORBITALS, [BLUE, RED, GREEN])

    # dopant PDOS
    ax = add_axes(fig, left, right, *rows[2])
    s2, p2 = x_sets[k]
    plot_curve(ax, s2, BLUE, 1.5)
    plot_curve(ax, p2, RED, 1.5)
    style_axes(ax, 4, 1, False)
    pdos_legend(ax, f"{DOPANTS[k]} PDOS", X_ORBITALS, [BLUE, RED])

    # P PDOS
    ax = add_axes(fig, left, right, *rows[3])
    s3, p3p = p_sets[k]
    plot_curve(ax, s3, BLUE, 1.5)
    plot_curve(ax, p3p, RED, 1.5)
    style_axes(ax, 4, 1, True)
    pdos_legend(ax, "P PDOS", P_ORBITALS, [BLUE, RED])

    tx, ty = TITLE_POS[k]
    fig.text(tx / W, 1 - ty / H, TITLES[k], ha="left", va="center",
             fontsize=11.5, fontweight="bold", family=BOLD)

for yc in (195, 700):
    fig.text(11 / W, 1 - yc / H, "Density of States (States/eV)", rotation=90,
             ha="center", va="center", fontsize=12.5, fontweight="bold", family=BOLD)
for xc in (193, 552):
    fig.text(xc / W, 1 - 977 / H, "Energy (eV)", ha="center", va="center",
             fontsize=14, fontweight="bold", family="Liberation Sans")

fig.savefig("out.png", dpi=100)
plt.close(fig)
